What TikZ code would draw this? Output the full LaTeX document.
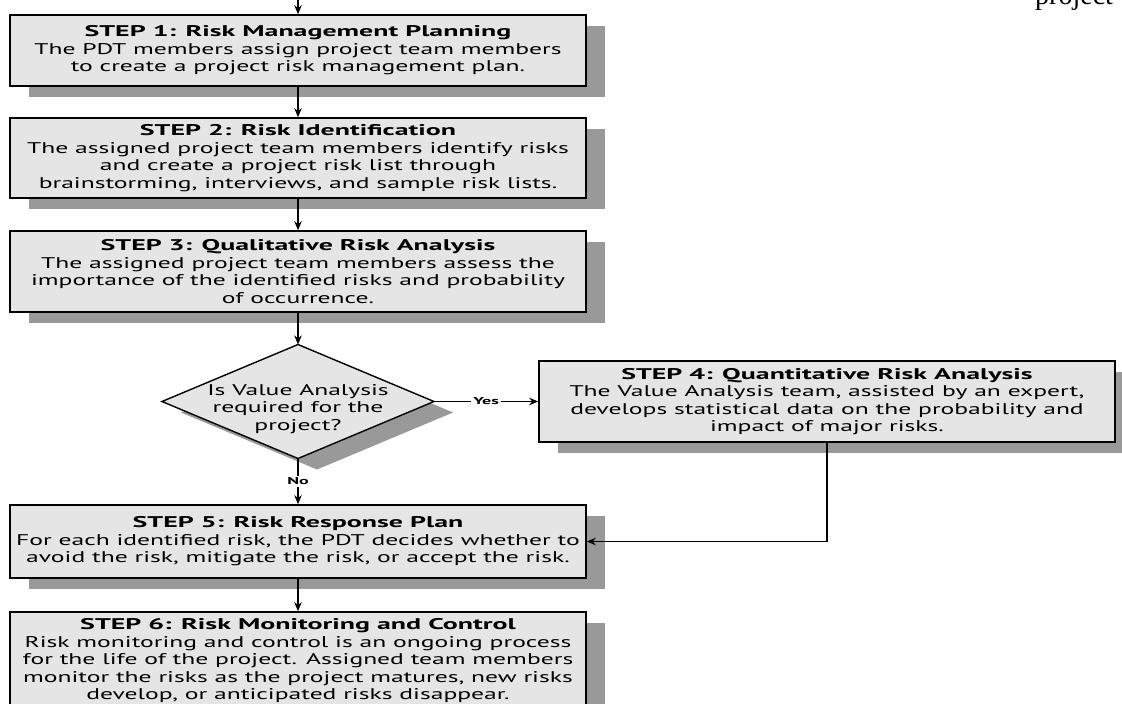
\documentclass[tikz,border=0pt]{standalone}
\usepackage{fontspec}
\setsansfont{PT Sans}[FakeStretch=1.65]
\newfontfamily\titlefont{PT Sans}[FakeStretch=1.8]
\newfontfamily\pagefont{Liberation Serif}
\usetikzlibrary{shapes.geometric,shadows,arrows.meta}

\definecolor{boxgray}{gray}{0.9}
\definecolor{shadegray}{gray}{0.6}
\newcommand{\steptitle}[1]{{\titlefont\bfseries #1}}

\begin{document}
\begin{tikzpicture}[x=1pt, y=-1pt, >={Stealth[length=9pt,width=7.5pt]},
    font=\sffamily\fontsize{15.5}{17.5}\selectfont,
    stepbox/.style={rectangle, draw, line width=1.6pt, fill=boxgray,
      align=center, inner sep=0pt, minimum width=576pt,
      drop shadow={shadow xshift=19pt, shadow yshift=-11pt, fill=shadegray, opacity=1}},
    decision/.style={diamond, aspect=2.4, draw, line width=1.4pt, fill=boxgray,
      inner sep=0pt, outer sep=0pt, minimum width=272pt, minimum height=114pt,
      drop shadow={shadow xshift=19pt, shadow yshift=-11pt, fill=shadegray, opacity=1}},
    flow/.style={->, line width=1.4pt},
    answer/.style={fill=white, inner sep=2pt, font=\titlefont\bfseries\fontsize{10}{12}\selectfont}]

  \useasboundingbox (0,0) rectangle (1122,704);

  \coordinate (top) at (298,0);

  \node[stepbox, minimum height=71pt] (plan) at (298,50.5)
    {\steptitle{STEP 1: Risk Management Planning}\\
     The PDT members assign project team members\\
     to create a project risk management plan.};
  \node[stepbox, minimum height=80pt] (ident) at (298,158)
    {\steptitle{STEP 2: Risk Identification}\\
     The assigned project team members identify risks\\
     and create a project risk list through\\
     brainstorming, interviews, and sample risk lists.};
  \node[stepbox, minimum height=81pt] (quali) at (298,271.5)
    {\steptitle{STEP 3: Qualitative Risk Analysis}\\
     The assigned project team members assess the\\
     importance of the identified risks and probability\\
     of occurrence.};
  \node[decision] (value) at (298,401.5) {};
  \node[align=center, inner sep=0pt] (valuetext) at (298,409)
    {Is Value Analysis\\required for the\\project?};
  \node[stepbox, minimum height=81pt] (quanti) at (827,401.5)
    {\steptitle{STEP 4: Quantitative Risk Analysis}\\
     The Value Analysis team, assisted by an expert,\\
     develops statistical data on the probability and\\
     impact of major risks.};
  \node[stepbox, minimum height=73pt] (response) at (298,541.5)
    {\steptitle{STEP 5: Risk Response Plan}\\
     For each identified risk, the PDT decides whether to\\
     avoid the risk, mitigate the risk, or accept the risk.};
  \node[stepbox, minimum height=98pt, font=\sffamily\fontsize{15.5}{17.5}\selectfont] (monitor) at (298,661)
    {\steptitle{STEP 6: Risk Monitoring and Control}\\
     Risk monitoring and control is an ongoing process\\
     for the life of the project. Assigned team members\\
     monitor the risks as the project matures, new risks\\
     develop, or anticipated risks disappear.};

  \node[anchor=base west, inner sep=0pt, font=\pagefont\fontsize{28}{30}\selectfont] (pageword) at (1035,5) {project};

  \draw[flow] (top) -- (plan);
  \draw[flow] (plan) -- (ident);
  \draw[flow] (ident) -- (quali);
  \draw[flow] (quali) -- (value);
  \draw[flow] (value) -- node[answer, pos=0.5] {Yes} (quanti);
  \draw[flow] (value) -- node[answer, pos=0.5] {No} (response);
  \draw[flow] (quanti.south) |- (response.east);
  \draw[flow] (response) -- (monitor);

\end{tikzpicture}
\end{document}
